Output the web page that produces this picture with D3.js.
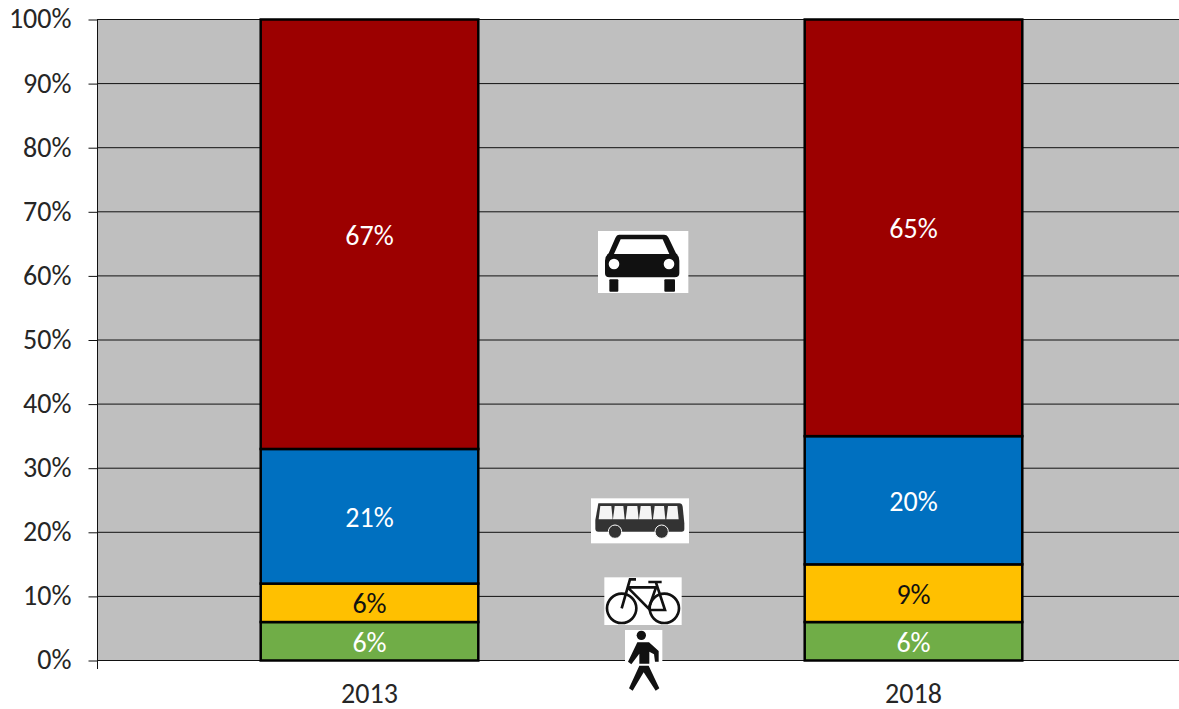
<!DOCTYPE html>
<html><head><meta charset="utf-8">
<script src="https://cdn.jsdelivr.net/npm/d3@7"></script>
<style>html,body{margin:0;padding:0;background:#fff}svg{display:block}text{font-family:Carlito,Calibri,Lato,sans-serif;font-size:28px;fill:#262626}</style>
</head><body><svg id="c" width="1179" height="709"></svg>
<script>
const years = ["2013", "2018"];
const modes = ["walk", "bike", "bus", "car"];
const walk = [6, 6];
const bike = [6, 9];
const bus = [21, 20];
const car = [67, 65];
const modeColors = ["#70AD47", "#FFC000", "#0070C0", "#9C0000"];
const labelColors = ["#fff", "#111", "#fff", "#fff"];
const yTicks = [0,10,20,30,40,50,60,70,80,90,100];

const svg = d3.select("#c");
const x = d3.scaleBand().domain(years).range([97.5,1185.5]).paddingInner(0.6).paddingOuter(0.3);
const y = d3.scaleLinear().domain([0,100]).range([660.5,19.5]);
const W = 1179;

svg.append("rect").attr("x",97.5).attr("y",19.5).attr("width",W-97.5).attr("height",641).attr("fill","#BFBFBF");

const gy = svg.append("g").attr("transform","translate(97.5,0)")
  .call(d3.axisLeft(y).tickValues(yTicks).tickFormat(d=>d+"%").tickSize(9).tickPadding(17));
gy.select(".domain").remove();
gy.selectAll("line").attr("stroke","#111");
gy.selectAll("text").style("font-size","28px").attr("fill","#262626").attr("dy","0.3em");
svg.append("g").selectAll("line").data(yTicks).join("line")
  .attr("x1",97.5).attr("x2",W).attr("y1",d=>y(d)).attr("y2",d=>y(d)).attr("stroke","#111");
svg.append("line").attr("x1",97.5).attr("x2",97.5).attr("y1",19).attr("y2",669).attr("stroke","#111");

const series = [walk,bike,bus,car];
years.forEach((yr,i)=>{
  let acc = 0;
  series.forEach((s,k)=>{
    const v = s[i];
    const y0 = acc, y1 = acc+v; acc = y1;
    svg.append("rect").attr("x",x(yr)).attr("width",x.bandwidth())
      .attr("y",y(y1)).attr("height",y(y0)-y(y1))
      .attr("fill",modeColors[k]).attr("stroke","#000").attr("stroke-width",2.5);
    svg.append("text").attr("x",x(yr)+x.bandwidth()/2).attr("y",y((y0+y1)/2)).attr("dy","0.38em")
      .attr("text-anchor","middle").style("fill",labelColors[k]).text(v+"%");
  });
  svg.append("text").attr("x",x(yr)+x.bandwidth()/2).attr("y",702.5).attr("text-anchor","middle").text(yr);
});

// Pictograms, drawn in the coordinates of a 3x design grid
function icon(tx,ty){ return svg.append("g").attr("transform",`translate(${tx},${ty}) scale(${1/3})`); }
const ink = "#111";

const c = icon(580,220);
c.append("rect").attr("x",54).attr("y",33).attr("width",271).attr("height",186).attr("fill","#fff");
c.append("path").attr("fill",ink).attr("fill-rule","evenodd")
 .attr("d","M118 44H252Q262 44 266 54L288 100Q298 108 298 122V160Q298 172 284 172H88Q75 172 75 160V122Q75 108 86 100L106 54Q110 44 118 44ZM122 58L102 102H268L248 58Z");
c.append("rect").attr("x",88).attr("y",178).attr("width",27).attr("height",37).attr("rx",3).attr("fill",ink);
c.append("rect").attr("x",253).attr("y",178).attr("width",32).attr("height",37).attr("rx",3).attr("fill",ink);
[102,267].forEach(cx=>c.append("circle").attr("cx",cx).attr("cy",132).attr("r",16).attr("fill","#fff"));

const b = icon(580,490);
b.append("rect").attr("x",33).attr("y",25).attr("width",294).attr("height",135).attr("fill","#fff");
b.append("path").attr("fill","#333").attr("d","M55 40H298Q306 40 308 50L313 100V118Q313 125 305 125H55Q46 125 46 116V90Z");
[[56,96],[99,132],[137,174],[177,214],[219,254],[259,294]].forEach(w=>
  b.append("path").attr("fill","#f4f4f4").attr("d",`M${w[0]+5} 48H${w[1]-2}L${w[1]+2} 88H${w[0]}Z`));
[105,245].forEach(cx=>b.append("circle").attr("cx",cx).attr("cy",125).attr("r",20).attr("fill","#333").attr("stroke","#fff").attr("stroke-width",3));

b.append("rect").attr("x",73).attr("y",262).attr("width",232).attr("height",143).attr("fill","#fff");
const bk = b.append("g").attr("fill","none").attr("stroke",ink).attr("stroke-width",8);
[125,253].forEach(cx=>bk.append("circle").attr("cx",cx).attr("cy",355).attr("r",44));
bk.append("path").attr("d","M168 268H150L125 355M143 292L210 360H255L228 278M143 292H228L205 358M205 276H245");

const w = icon(600,625);
w.append("rect").attr("x",75).attr("y",15).attr("width",112).attr("height",186).attr("fill","#fff");
w.append("circle").attr("cx",124).attr("cy",31).attr("r",14).attr("fill",ink);
w.append("path").attr("fill",ink).attr("d","M112 52H147L176 78V110H165L162 88L148 80V116H118V86L94 118L84 110Z");
w.append("path").attr("fill",ink).attr("d","M118 122H146L178 190L167 197L131 142L98 197L87 190Z");
</script></body></html>
